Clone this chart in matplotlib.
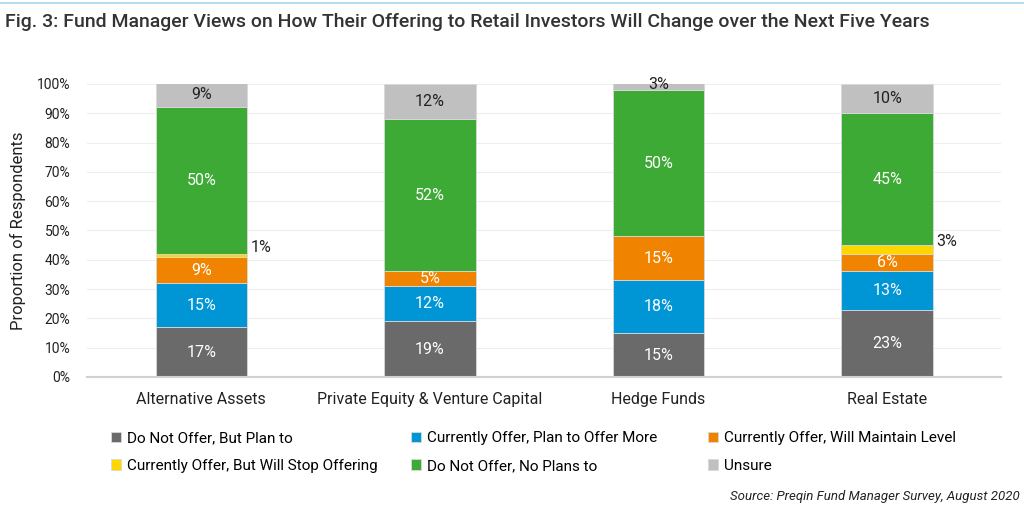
import matplotlib.pyplot as plt
import numpy as np

plt.rcParams['font.family'] = ['Roboto', 'DejaVu Sans']

# data
categories = ["Alternative Assets", "Private Equity & Venture Capital", "Hedge Funds", "Real Estate"]
series_names = ["Do Not Offer, But Plan to", "Currently Offer, Plan to Offer More",
                "Currently Offer, Will Maintain Level", "Currently Offer, But Will Stop Offering",
                "Do Not Offer, No Plans to", "Unsure"]
do_not_offer_plan = [17, 19, 15, 23]
offer_more = [15, 12, 18, 13]
maintain = [9, 5, 15, 6]
stop_offering = [1, 0, 0, 3]
no_plans = [50, 52, 50, 45]
unsure = [9, 12, 3, 10]

colors = ["#6b6a6a", "#0096d6", "#f08300", "#ffd600", "#3daa35", "#c0c0c0"]
text_colors = ["white", "white", "white", "#222222", "white", "#222222"]

all_series = [do_not_offer_plan, offer_more, maintain, stop_offering, no_plans, unsure]

fig = plt.figure(figsize=(10.24, 5.12), dpi=100)
ax = fig.add_axes([0.085, 0.2637, 0.893, 0.5723])

x = np.arange(len(categories))
bottom = np.zeros(len(categories))
handles = []
for i, vals in enumerate(all_series):
    vals = np.array(vals, dtype=float)
    b = ax.bar(x, vals, 0.4, bottom=bottom, color=colors[i], edgecolor="#d9d9d9",
               linewidth=0.6, label=series_names[i], zorder=2)
    handles.append(b)
    for j, v in enumerate(vals):
        if v <= 0:
            continue
        if v < 4:
            if i == 5:
                ax.text(x[j], bottom[j] + v / 2 + 0.3, f"{v:.0f}%", ha="center", va="center",
                        fontsize=11.5, color="#222222", zorder=3)
            else:
                ax.text(x[j] + 0.215, bottom[j] + v / 2 + 0.3, f"{v:.0f}%", ha="left", va="bottom",
                        fontsize=11.5, color="#222222", zorder=3)
        else:
            ax.text(x[j], bottom[j] + v / 2, f"{v:.0f}%", ha="center", va="center",
                    fontsize=11.5, color=text_colors[i], zorder=3)
    bottom += vals

ax.set_xlim(-0.5, 3.5)
ax.set_ylim(0, 100)
ax.set_yticks(range(0, 101, 10))
ax.set_yticklabels([f"{t}%" for t in range(0, 101, 10)], fontsize=10, color="#222222")
ax.set_xticks(x)
ax.set_xticklabels(categories, fontsize=11.5, color="#222222")
ax.tick_params(axis="both", length=0)
ax.tick_params(axis="x", pad=11)
ax.tick_params(axis="y", pad=12)
ax.grid(axis="y", color="#eeeeee", linewidth=0.8, zorder=0)
for s in ["top", "right", "left"]:
    ax.spines[s].set_visible(False)
ax.spines["bottom"].set_color("#d0d0d0")
ax.spines["bottom"].set_linewidth(1.5)
ax.set_ylabel("Proportion of Respondents", fontsize=12, color="#222222", labelpad=8)

# legend, one column at a time
col_x = [0.108, 0.401, 0.691]
for c in range(3):
    idx = [c, c + 3]
    fig.legend([handles[k] for k in idx], [series_names[k] for k in idx],
               loc="upper left", bbox_to_anchor=(col_x[c], 0.158), ncol=1, frameon=False,
               fontsize=11, handlelength=0.65, handleheight=0.65, handletextpad=0.4,
               labelspacing=0.9, borderaxespad=0, borderpad=0)

fig.text(0.005, 0.958, "Fig. 3: Fund Manager Views on How Their Offering to Retail Investors Will Change over the Next Five Years",
         fontsize=14, fontweight="medium", color="#333333", va="center")
fig.add_artist(plt.Line2D([0, 1], [0.994, 0.994], color="#a9d4ee", linewidth=1.2))
fig.text(0.996, 0.031, "Source: Preqin Fund Manager Survey, August 2020", fontsize=9.5,
         style="italic", ha="right", va="center", color="#222222")

fig.savefig("out.png", dpi=100)
